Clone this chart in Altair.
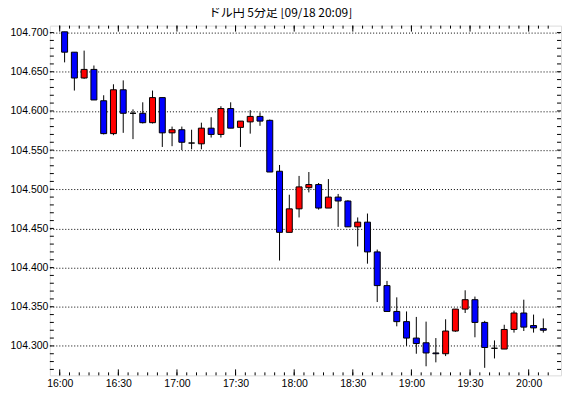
import altair as alt
import pandas as pd

# 5-minute candles starting 16:00 (minutes after 16:00)
start_labels = ["16:00", "16:30", "17:00", "17:30", "18:00", "18:30", "19:00", "19:30", "20:00"]
opens = [104.701, 104.675, 104.642, 104.653, 104.613, 104.571, 104.627, 104.597, 104.597, 104.585,
         104.617, 104.572, 104.576, 104.559, 104.558, 104.578, 104.570, 104.603, 104.579, 104.586,
         104.593, 104.588, 104.523, 104.445, 104.475, 104.502, 104.506, 104.476, 104.490, 104.485,
         104.452, 104.458, 104.420, 104.377, 104.344, 104.331, 104.310, 104.304, 104.291, 104.290,
         104.319, 104.347, 104.359, 104.330, 104.297, 104.296, 104.321, 104.342, 104.326, 104.322]
highs = [104.701, 104.675, 104.677, 104.658, 104.620, 104.634, 104.639, 104.602, 104.611, 104.626,
         104.617, 104.580, 104.580, 104.576, 104.585, 104.592, 104.606, 104.611, 104.587, 104.601,
         104.598, 104.589, 104.531, 104.493, 104.517, 104.522, 104.508, 104.513, 104.494, 104.486,
         104.464, 104.469, 104.423, 104.383, 104.362, 104.344, 104.337, 104.331, 104.310, 104.334,
         104.347, 104.371, 104.363, 104.332, 104.307, 104.327, 104.345, 104.359, 104.340, 104.335]
lows = [104.662, 104.626, 104.641, 104.614, 104.570, 104.569, 104.572, 104.564, 104.584, 104.584,
        104.554, 104.555, 104.550, 104.551, 104.551, 104.566, 104.566, 104.578, 104.554, 104.571,
        104.581, 104.522, 104.409, 104.445, 104.464, 104.496, 104.474, 104.476, 104.452, 104.452,
        104.427, 104.405, 104.356, 104.344, 104.325, 104.300, 104.290, 104.274, 104.279, 104.287,
        104.318, 104.342, 104.311, 104.272, 104.284, 104.296, 104.317, 104.319, 104.317, 104.317]
closes = [104.675, 104.642, 104.653, 104.614, 104.571, 104.627, 104.597, 104.597, 104.585, 104.617,
          104.572, 104.576, 104.560, 104.559, 104.578, 104.570, 104.603, 104.578, 104.587, 104.593,
          104.587, 104.522, 104.445, 104.475, 104.503, 104.506, 104.476, 104.490, 104.485, 104.452,
          104.458, 104.420, 104.377, 104.344, 104.331, 104.310, 104.303, 104.291, 104.290, 104.319,
          104.347, 104.359, 104.330, 104.298, 104.297, 104.321, 104.342, 104.324, 104.323, 104.320]

minutes = [5 * i for i in range(len(opens))]
grid_prices = [104.30, 104.35, 104.40, 104.45, 104.50, 104.55, 104.60, 104.65, 104.70]
label_minutes = [30 * k for k in range(len(start_labels))]
minor_minutes = [5 * k for k in range(51)]
minor_prices = [round(104.27 + 0.01 * k, 2) for k in range(44)]

W, H = 513, 351
X_DOMAIN = [-2.5, 254]
Y_DOMAIN = [104.2624, 104.7089]

df = pd.DataFrame({"m": [m + 2.5 for m in minutes], "open": opens, "high": highs,
                   "low": lows, "close": closes})
df["dir"] = ["up" if c > o else ("down" if c < o else "flat") for o, c in zip(opens, closes)]

xs = alt.Scale(domain=X_DOMAIN, nice=False, zero=False)
ys = alt.Scale(domain=Y_DOMAIN, nice=False, zero=False)

label_expr = "{" + ",".join(f"'{m}':'{l}'" for m, l in zip(label_minutes, start_labels)) + "}[datum.value]"

x_axis = alt.Axis(values=label_minutes, labelExpr=label_expr, ticks=False, domain=False,
                  grid=False, title=None, labelFont="Liberation Sans", labelFontSize=10.5,
                  labelColor="black", labelPadding=3)
y_axis = alt.Axis(values=grid_prices, format=".3f", ticks=False, domain=False, grid=True,
                  gridColor="black", gridDash=[1, 2], gridOpacity=1, gridWidth=1, title=None,
                  labelFont="Liberation Sans", labelFontSize=10.5, labelColor="black", labelPadding=2)

base = alt.Chart(df)

wicks = base.mark_rule(color="black", strokeWidth=1).encode(
    x=alt.X("m:Q", scale=xs, axis=x_axis),
    y=alt.Y("low:Q", scale=ys, axis=y_axis),
    y2="high:Q",
)

bodies = base.mark_bar(size=6, stroke="black", strokeWidth=1).encode(
    x=alt.X("m:Q", scale=xs, axis=x_axis),
    y=alt.Y("open:Q", scale=ys, axis=y_axis),
    y2="close:Q",
    color=alt.Color("dir:N", scale=alt.Scale(domain=["up", "down", "flat"],
                                              range=["#ff0000", "#0000ff", "#000000"]), legend=None),
)

xt_major = pd.DataFrame({"m": label_minutes})
xt_minor = pd.DataFrame({"m": minor_minutes})
yt = pd.DataFrame({"low": minor_prices})

tick_layers = []
for d, y1, y2 in [(xt_minor, H, H - 3), (xt_major, H, H - 6), (xt_minor, 0, 3), (xt_major, 0, 6)]:
    tick_layers.append(alt.Chart(d).mark_rule(color="black", strokeWidth=1).encode(
        x=alt.X("m:Q", scale=xs, axis=x_axis), y=alt.value(y1), y2=alt.value(y2)))
for x1, x2 in [(0, 4), (W, W - 4)]:
    tick_layers.append(alt.Chart(yt).mark_rule(color="black", strokeWidth=1).encode(
        y=alt.Y("low:Q", scale=ys, axis=y_axis), x=alt.value(x1), x2=alt.value(x2)))

chart = alt.layer(wicks, bodies, *tick_layers).properties(
    width=W, height=H,
    title=alt.TitleParams("ドル円 5分足 [09/18 20:09]", font="Noto Sans CJK JP", fontSize=12,
                          fontWeight="normal", color="black", anchor="middle", dx=-25, offset=5),
    autosize=alt.AutoSizeParams(type="none"),
    padding={"left": 42, "top": 17, "right": 1, "bottom": 13},
).configure_view(stroke="black", strokeWidth=1.5).configure(background="white")

chart.save("out.html", embed_options={"renderer": "svg", "actions": False})
